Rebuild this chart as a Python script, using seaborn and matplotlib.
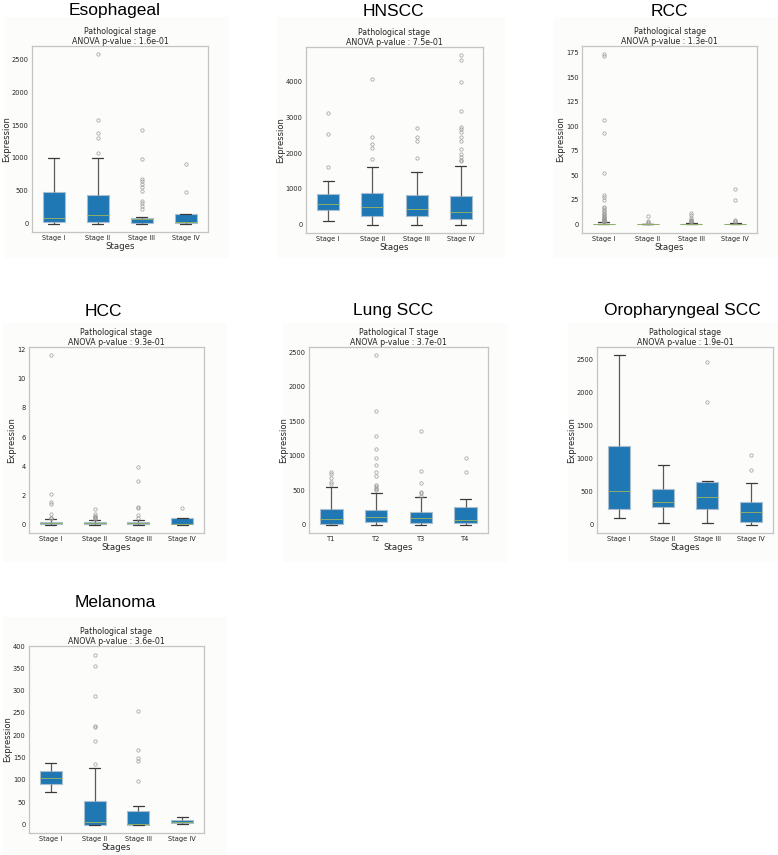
import numpy as np
import pandas as pd
import matplotlib
matplotlib.use("Agg")
import matplotlib.pyplot as plt
from matplotlib.patches import Rectangle
import seaborn as sns

# ---------------- data ----------------
# each group: (whisker_low, q1, median, q3, whisker_high, [outliers])
stages4 = ["Stage I", "Stage II", "Stage III", "Stage IV"]
t_stages = ["T1", "T2", "T3", "T4"]

esophageal = [
    (0, 25, 91, 479, 1003, []),
    (0, 30, 136, 433, 1005, [1080, 1300, 1380, 1570, 2575]),
    (0, 5, 65, 86, 106, [227, 267, 307, 348, 494, 554, 605, 645, 685, 988, 1426]),
    (0, 10, 30, 151, 151, [484, 907]),
]
hnscc = [
    (111, 400, 585, 854, 1206, [1624, 2543, 3128]),
    (0, 241, 501, 872, 1606, [1847, 2135, 2255, 2450, 4083]),
    (0, 232, 427, 826, 1457, [1850, 2348, 2440, 2700]),
    (0, 167, 362, 798, 1633, [1780, 1810, 1884, 1977, 2125, 2348, 2441,
                              2600, 2664, 2738, 3183, 3991, 4594, 4733]),
]
rcc = [
    (0, 0.1, 0.3, 1.0, 2.2, [2.6, 3.0, 3.5, 4.0, 4.5, 5.0, 5.5, 6.0, 7.0, 8.0,
                             9.0, 10.0, 11.0, 12.0, 13.5, 15.0, 16.5, 18.0,
                             25.0, 28.0, 30.0, 52.0, 93.0, 106.0, 171.0, 173.0]),
    (0, 0.05, 0.2, 0.5, 1.0, [2.0, 3.0, 4.0, 8.8]),
    (0, 0.05, 0.3, 0.8, 1.8, [2.3, 2.7, 3.2, 3.7, 4.3, 5.0, 7.0, 10.0, 12.0]),
    (0, 0.1, 0.4, 1.0, 2.0, [3.0, 4.0, 5.0, 25.0, 36.0]),
]
hcc = [
    (0, 0.03, 0.1, 0.18, 0.35, [0.42, 0.45, 0.48, 0.75, 1.39, 1.52, 2.11, 11.59]),
    (0, 0.03, 0.1, 0.16, 0.30, [0.38, 0.42, 0.5, 0.55, 0.62, 0.7, 1.05]),
    (0, 0.03, 0.09, 0.17, 0.30, [0.45, 0.65, 1.15, 1.2, 3.0, 3.95]),
    (0, 0.02, 0.05, 0.43, 0.45, [1.12]),
]
lung = [
    (0, 15, 83, 230, 545, [581, 620, 679, 727, 762]),
    (0, 39, 103, 210, 459, [500, 515, 530, 560, 580, 700, 760, 860, 960, 1090, 1290, 1650, 2450]),
    (0, 29, 98, 181, 395, [420, 450, 470, 605, 781, 1362]),
    (0, 24, 73, 259, 376, [762, 962]),
]
oropharyngeal = [
    (110, 235, 515, 1195, 2555, []),
    (35, 275, 340, 540, 900, []),
    (25, 245, 415, 645, 665, [1860, 2450]),
    (5, 40, 195, 345, 625, [830, 1060]),
]
melanoma = [
    (73, 90, 105, 120, 138, []),
    (0, 0, 6, 52, 126, [136, 188, 219, 221, 289, 356, 381]),
    (0, 0, 1, 31, 41, [97, 142, 148, 166, 255]),
    (2, 3, 6, 11, 17, []),
]

titles = ["Esophageal", "HNSCC", "RCC", "HCC", "Lung SCC", "Oropharyngeal SCC", "Melanoma"]
subtitles = ["Pathological stage"] * 4 + ["Pathological T stage"] + ["Pathological stage"] * 2
pvalues = ["1.6e-01", "7.5e-01", "1.3e-01", "9.3e-01", "3.7e-01", "1.9e-01", "3.6e-01"]
datasets = [esophageal, hnscc, rcc, hcc, lung, oropharyngeal, melanoma]
xcats = [stages4, stages4, stages4, stages4, t_stages, stages4, stages4]
yticks = [
    [0, 500, 1000, 1500, 2000, 2500],
    [0, 1000, 2000, 3000, 4000],
    [0, 25, 50, 75, 100, 125, 150, 175],
    [0, 2, 4, 6, 8, 10, 12],
    [0, 500, 1000, 1500, 2000, 2500],
    [0, 500, 1000, 1500, 2000, 2500],
    [0, 50, 100, 150, 200, 250, 300, 350, 400],
]


def sample_from_summary(lo, q1, med, q3, hi, outliers):
    """Build a sample whose box-plot statistics equal the read summary."""
    k = len(outliers)
    r = 3 * k + 10
    s = k + 2
    vals = [lo] + [q1] * r + [med] * s + [q3] * r + [hi] + list(outliers)
    return vals


# ---------------- layout (pixels) ----------------
W, H = 778, 855
axes_px = [(32, 46, 208, 232), (306, 47, 483, 233), (582, 46, 757, 233),
           (29, 347, 204, 533), (309, 347, 488, 533), (597, 347, 773, 533),
           (29, 646, 204, 833)]
bg_px = [(4, 17, 229, 258), (277, 17, 505, 258), (553, 17, 778, 258),
         (3, 323, 227, 562), (283, 323, 508, 562), (568, 323, 778, 562),
         (3, 617, 227, 855)]
title_px = [(115, 11), (393, 11), (669, 11), (103, 311), (393, 311), (682, 311), (115, 602)]

BG = "#fcfcfa"
TXT = "#262626"

sns.set_style("white")
plt.rcParams["font.family"] = ["DejaVu Sans"]

fig = plt.figure(figsize=(W / 100, H / 100), dpi=100)
fig.patch.set_facecolor("white")

for i in range(7):
    x0, y0, x1, y1 = bg_px[i]
    fig.add_artist(Rectangle((x0 / W, 1 - y1 / H), (x1 - x0) / W, (y1 - y0) / H,
                             transform=fig.transFigure, facecolor=BG,
                             edgecolor="none", zorder=0))
    cx, cy = title_px[i]
    fig.text(cx / W, 1 - cy / H, titles[i], ha="center", va="center",
             fontsize=12.5, family=["Liberation Sans", "DejaVu Sans"], color="black")

    ax0, ay0, ax1, ay1 = axes_px[i]
    ax = fig.add_axes([ax0 / W, 1 - ay1 / H, (ax1 - ax0) / W, (ay1 - ay0) / H])
    ax.set_facecolor(BG)

    rows = []
    for cat, summ in zip(xcats[i], datasets[i]):
        for v in sample_from_summary(*summ):
            rows.append((cat, v))
    df = pd.DataFrame(rows, columns=["Stages", "Expression"])

    sns.boxplot(data=df, x="Stages", y="Expression", order=xcats[i], ax=ax,
                width=0.5, color="#1f77b4", saturation=1, linewidth=0.9,
                boxprops=dict(facecolor="#1f77b4", edgecolor="#a9bfd0", linewidth=0.8),
                medianprops=dict(color="#8fae66", linewidth=0.7),
                whiskerprops=dict(color="#5a5a5a", linewidth=0.9),
                capprops=dict(color="#3a3a3a", linewidth=0.9),
                flierprops=dict(marker="o", markerfacecolor="none",
                                markeredgecolor="#9a9a9a", markersize=2.4,
                                markeredgewidth=0.5))

    ax.set_yticks(yticks[i])
    ax.set_title(f"{subtitles[i]}\nANOVA p-value : {pvalues[i]}", fontsize=5.7,
                 color=TXT, pad=1.5, linespacing=1.15)
    ax.set_xlabel("Stages", fontsize=6.2, color=TXT, labelpad=0.5)
    ax.set_ylabel("Expression", fontsize=6.0, color=TXT, labelpad=0.4)
    ax.tick_params(axis="both", labelsize=4.8, length=1.5, width=0.5,
                   colors="#8a8a8a", labelcolor=TXT, pad=1.0)
    for sp in ax.spines.values():
        sp.set_color("#c4c4c4")
        sp.set_linewidth(0.9)

fig.savefig("out.png", dpi=100, facecolor="white")
